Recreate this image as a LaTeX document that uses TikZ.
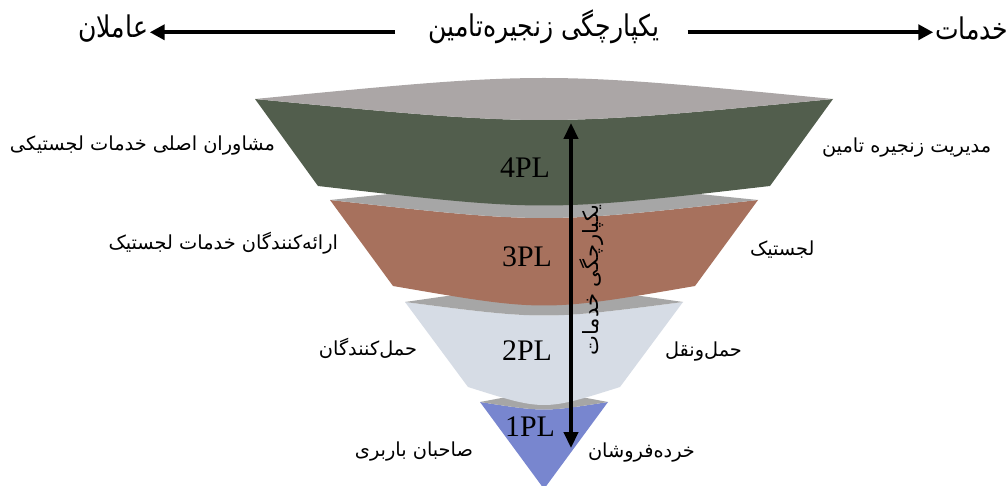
\documentclass[tikz,border=0pt]{standalone}
\usepackage{fontspec}
\setmainfont{Liberation Serif}
\newfontfamily\fafont[Script=Arabic]{DejaVu Sans}
\newfontfamily\fahdrfont[Script=Arabic,FakeStretch=0.84]{DejaVu Sans}
\TeXXeTstate=1
\usetikzlibrary{arrows.meta}

\definecolor{plfour}{RGB}{82,94,77}
\definecolor{plthree}{RGB}{167,113,93}
\definecolor{pltwo}{RGB}{214,220,229}
\definecolor{plone}{RGB}{120,134,207}
\definecolor{lenstop}{RGB}{171,166,166}
\definecolor{lensgray}{RGB}{166,166,166}

\begin{document}
\begin{tikzpicture}[x=0.02cm,y=-0.02cm,inner sep=0pt,outer sep=0pt,
falabel/.style={font=\fafont\fontsize{11}{13}\selectfont},
hdr/.style={font=\fahdrfont\fontsize{17}{20}\selectfont},
pllabel/.style={font=\fontsize{17}{20}\selectfont},
hdrarrow/.style={line width=2.5pt,-{Triangle[length=8.5pt,width=8.5pt]}},
svcarrow/.style={line width=2pt,{Triangle[length=9pt,width=8pt]}-{Triangle[length=9pt,width=8pt]}}]
\useasboundingbox (0,0) rectangle (1008,486);

%%% Funnel layers, lowest first %%%%%
\fill[plone] (480,402) -- (544,489) -- (608,402) .. controls (544,412) .. cycle;
\fill[lensgray] (480,402) .. controls (544,390) .. (608,402) .. controls (544,412) .. cycle;

\fill[pltwo] (405,302) -- (468,387) .. controls (544,411) .. (620,387) -- (683,302) .. controls (544,320) .. cycle;
\fill[lensgray] (405,302) .. controls (544,282) .. (683,302) .. controls (544,320) .. cycle;

\fill[plthree] (330,200) -- (393,286) .. controls (544,312) .. (695,286) -- (758,200) .. controls (544,224) .. cycle;
\fill[lensgray] (330,200) .. controls (544,178) .. (758,200) .. controls (544,224) .. cycle;

\fill[plfour] (255,99) -- (318,186) .. controls (544,212) .. (770,186) -- (833,99) .. controls (544,127) .. cycle;
\fill[lenstop] (255,99) .. controls (544,71) .. (833,99) .. controls (544,127) .. cycle;
%%%%%%%%%%%%%%%%%%%%%%%%%

%%% Layer names
\node[pllabel] (pl4) at (525,168) {4PL};
\node[pllabel] (pl3) at (527,257) {3PL};
\node[pllabel] (pl2) at (527,351) {2PL};
\node[pllabel] (pl1) at (530,427) {1PL};

%%% Service arrow through the funnel
\coordinate (svctop) at (571,123);
\coordinate (svcbot) at (571,448);
\draw[svcarrow] (svctop) -- (svcbot);
\node[falabel,rotate=90,font=\fafont\fontsize{12}{14}\selectfont] (svc) at (592,280) {\beginR یکپارچگی خدمات\endR};

	%%% Left of the funnel
	\node[falabel,anchor=east] (l4) at (275,146) {\beginR مشاوران اصلی خدمات لجستیکی\endR};
	\node[falabel,anchor=east] (l3) at (338,243) {\beginR ارائه‌کنندگان خدمات لجستیک\endR};
	\node[falabel,anchor=east] (l2) at (417,348) {\beginR حمل‌کنندگان\endR};
	\node[falabel,anchor=east] (l1) at (473,452) {\beginR صاحبان باربری\endR};
	%%% Right of the funnel
	\node[falabel,anchor=west] (r4) at (822,148) {\beginR مدیریت زنجیره تامین\endR};
	\node[falabel,anchor=west] (r3) at (750,250) {\beginR لجستیک\endR};
	\node[falabel,anchor=west] (r2) at (665,352) {\beginR حمل‌ونقل\endR};
	\node[falabel,anchor=west] (r1) at (588,453) {\beginR خرده‌فروشان\endR};

%%% Header line
\node[hdr] (title) at (544,27) {\beginR یکپارچگی زنجیره‌تامین\endR};
\node[hdr,anchor=east] (actors) at (148,29) {\beginR عاملان\endR};
\node[hdr,anchor=west] (services) at (935,29) {\beginR خدمات\endR};
\draw[hdrarrow,shorten <=19pt,shorten >=1pt] ([yshift=-3pt]title.west) -- ([yshift=-3pt]title.west -| actors.east);
\draw[hdrarrow,shorten <=16pt,shorten >=1pt] ([yshift=-3pt]title.east) -- ([yshift=-3pt]title.east -| services.west);

\end{tikzpicture}
\end{document}
